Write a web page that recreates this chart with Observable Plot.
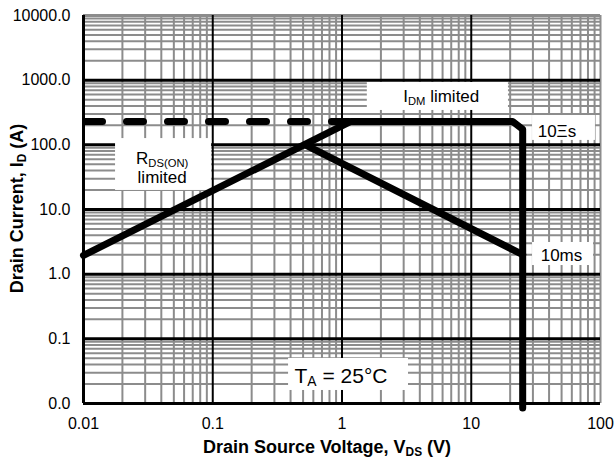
<!DOCTYPE html>
<html><head><meta charset="utf-8">
<script src="https://cdn.jsdelivr.net/npm/d3@7"></script>
<script src="https://cdn.jsdelivr.net/npm/@observablehq/plot@0.6"></script>
<style>body{margin:0;background:#fff}</style>
</head><body><div id="chart"></div>
<script>
// ---- tick values and labels ----
const xTicks = [0.01, 0.1, 1, 10, 100];
const xTickLabels = ["0.01", "0.1", "1", "10", "100"];
const yTicks = [0.01, 0.1, 1, 10, 100, 1000, 10000];
const yTickLabels = ["0.0", "0.1", "1.0", "10.0", "100.0", "1000.0", "10000.0"];

// ---- SOA boundary: RDS(on) limited -> IDM limited -> 10us edge ----
const soaV = [0.01, 1.17, 20.9, 25, 25];
const soaI = [1.95, 230, 230, 174, 0.0085];
// dashed IDM extension
const idmDashV = [0.01, 1.17];
const idmDashI = [230, 230];
// 10 ms line
const ms10V = [0.52, 25];
const ms10I = [100, 2.0];

// ---- annotation boxes (data units) ----
const boxX1 = [0.0177, 1.57, 29.8, 29.8, 0.386];
const boxX2 = [0.098, 19.4, 91.4, 88.3, 3.27];
const boxY1 = [19.7, 340, 117, 1.36, 0.0159];
const boxY2 = [125, 920, 284, 3.09, 0.0497];

// ---- annotation texts ----
const labelText = ["R_{DS(ON)}", "limited", "I_{DM} limited", "10Ξs", "10ms"];
const labelX = [0.0406, 0.0406, 5.86, 46, 49.9];
const labelY = [61.4, 31.2, 550, 158, 1.95];
const tempText = ["T_{A} = 25°C"];
const tempX = [0.982];
const tempY = [0.0266];

const xTitle = "Drain Source Voltage, V_{DS} (V)";
const yTitle = "Drain Current, I_{D} (A)";

const isMajor = d => Math.abs(Math.log10(d) - Math.round(Math.log10(d))) < 1e-6;
const xMinor = d3.scaleLog().domain([0.01, 100]).ticks().filter(d => !isMajor(d));
const yMinor = d3.scaleLog().domain([0.01, 10000]).ticks().filter(d => !isMajor(d));

const soa = soaV.map((v, i) => ({v, i: soaI[i]}));
const dash = idmDashV.map((v, i) => ({v, i: idmDashI[i]}));
const ms10 = ms10V.map((v, i) => ({v, i: ms10I[i]}));
const boxes = boxX1.map((d, k) => k);
const labels = labelText.map((d, k) => k);

const FONT = "'Liberation Sans', Arial, Helvetica, sans-serif";

const chart = Plot.plot({
  width: 616,
  height: 462,
  marginLeft: 83,
  marginRight: 16,
  marginTop: 15,
  marginBottom: 59,
  style: {fontFamily: FONT, fontSize: "16px", background: "white", color: "black", overflow: "visible"},
  x: {type: "log", domain: [0.01, 100]},
  y: {type: "log", domain: [0.01, 10000]},
  marks: [
    Plot.ruleX(xMinor, {stroke: "#8c8c8c", strokeWidth: 2}),
    Plot.ruleY(yMinor, {stroke: "#8c8c8c", strokeWidth: 2}),
    Plot.ruleX([100], {stroke: "#8c8c8c", strokeWidth: 2}),
    Plot.ruleY([10000], {stroke: "#8c8c8c", strokeWidth: 3}),
    Plot.ruleX([0.1, 1, 10], {stroke: "black", strokeWidth: 2}),
    Plot.ruleY([0.1, 1, 10, 100, 1000], {stroke: "black", strokeWidth: 3}),
    Plot.rect(boxes, {x1: k => boxX1[k], x2: k => boxX2[k], y1: k => boxY1[k], y2: k => boxY2[k], fill: "white"}),
    Plot.line(dash, {x: "v", y: "i", stroke: "black", strokeWidth: 7, strokeDasharray: "17,24", strokeDashoffset: -2, strokeLinecap: "round", clip: true}),
    Plot.line(ms10, {x: "v", y: "i", stroke: "black", strokeWidth: 7}),
    Plot.line(soa, {x: "v", y: "i", stroke: "black", strokeWidth: 7, strokeLinejoin: "round"}),
    Plot.ruleX([0.01], {stroke: "black", strokeWidth: 3}),
    Plot.ruleY([0.01], {stroke: "black", strokeWidth: 3}),
    Plot.text(labels, {x: k => labelX[k], y: k => labelY[k], text: k => labelText[k], fontSize: 17, fill: "black", textAnchor: "middle", lineAnchor: "middle"}),
    Plot.text(tempText, {x: (d, k) => tempX[k], y: (d, k) => tempY[k], text: d => d, fontSize: 21, fill: "black", textAnchor: "middle", lineAnchor: "middle"}),
    Plot.axisX({ticks: xTicks, tickFormat: d => xTickLabels[xTicks.indexOf(d)], tickSize: 0, tickPadding: 14, fontSize: 16, label: null}),
    Plot.axisY({ticks: yTicks, tickFormat: d => yTickLabels[yTicks.indexOf(d)], tickSize: 0, tickPadding: 13, fontSize: 16, label: null}),
    Plot.text([xTitle], {frameAnchor: "bottom", dy: 44, dx: -15, text: d => d, fontSize: 18, fontWeight: "bold", fill: "black", textAnchor: "middle", lineAnchor: "middle"}),
    Plot.text([yTitle], {frameAnchor: "left", dx: -66, dy: -1, rotate: -90, text: d => d, fontSize: 18, fontWeight: "bold", fill: "black", textAnchor: "middle", lineAnchor: "middle"})
  ]
});
document.getElementById("chart").appendChild(chart);

function applySubscripts(svg) {
  const NS = "http://www.w3.org/2000/svg";
  svg.querySelectorAll("text, tspan").forEach(el => {
    Array.from(el.childNodes).forEach(node => {
      if (node.nodeType !== 3 || !node.nodeValue.includes("_{")) return;
      const fs = parseFloat(getComputedStyle(el).fontSize) || 16;
      const parts = node.nodeValue.split(/(_\{[^}]*\})/);
      const frag = document.createDocumentFragment();
      let shifted = false;
      for (const p of parts) {
        if (!p) continue;
        const t = document.createElementNS(NS, "tspan");
        if (p.startsWith("_{")) {
          t.textContent = p.slice(2, -1);
          t.setAttribute("font-size", (fs * 0.66).toFixed(2));
          t.setAttribute("dy", (fs * 0.15).toFixed(2));
          shifted = true;
        } else {
          t.textContent = p;
          if (shifted) { t.setAttribute("dy", (-fs * 0.15).toFixed(2)); shifted = false; }
        }
        frag.appendChild(t);
      }
      el.replaceChild(frag, node);
    });
  });
}
applySubscripts(chart);
</script>
</body></html>
